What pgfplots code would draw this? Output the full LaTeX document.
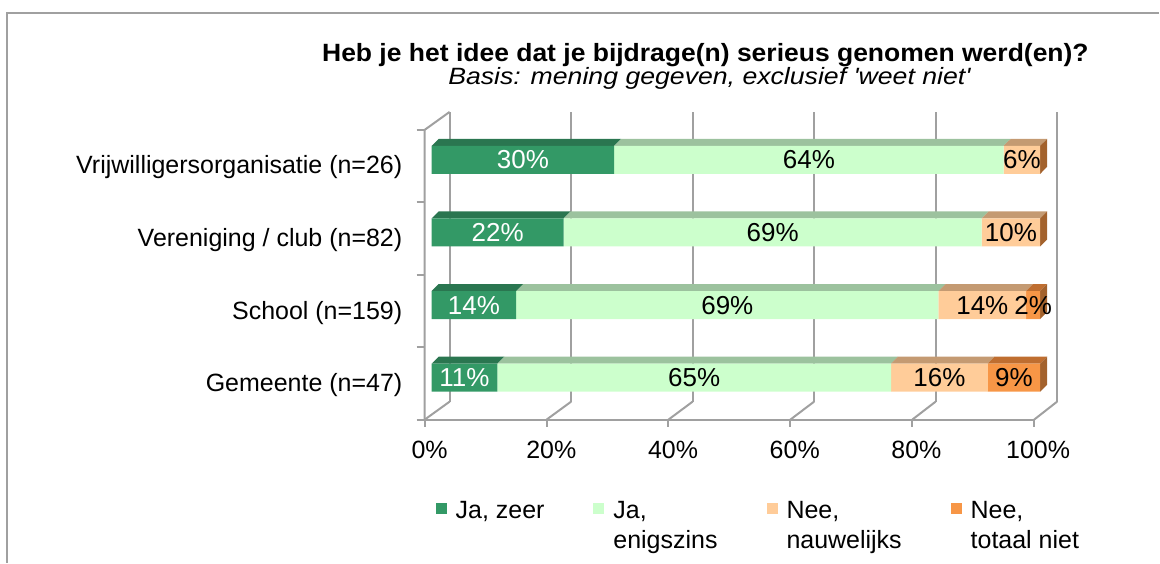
\documentclass[border=0pt]{standalone}
\usepackage{graphicx}
\usepackage{pgfplots}
\pgfplotsset{compat=1.18}
\usepackage{fontspec}
\setmainfont{Liberation Sans}
\definecolor{dg}{HTML}{339966}
\definecolor{lg}{HTML}{CCFFCC}
\definecolor{pe}{HTML}{FFCC99}
\definecolor{or}{HTML}{F79646}
\definecolor{dgt}{HTML}{2A7650}
\definecolor{lgt}{HTML}{9CC29E}
\definecolor{pet}{HTML}{C49A72}
\definecolor{ort}{HTML}{BF6E30}
\definecolor{side}{HTML}{A3622D}
\definecolor{wall}{HTML}{A0A0A0}
\newcommand\fs{\fontsize{12.5}{16}\selectfont}
\begin{document}
\begin{tikzpicture}
\begin{scope}[x=0.5pt,y=0.5pt]
\path (0,0) rectangle (1160,563);
\draw[wall, line width=1pt] (7,0) -- (7,549.5) -- (1160,549.5);
% back wall gridlines
\foreach \k in {0,...,5}{
  \draw[wall, line width=1pt] ({450+121.6*\k},161) -- ({450+121.6*\k},451);
  \draw[wall, line width=1pt] ({425+122*\k},143) -- ({450+121.6*\k},161);
  \draw[wall, line width=1pt] ({425+122*\k},143) -- ({425+122*\k},136);
}
\draw[wall, line width=1pt] (425,143) -- (1035,143);
\draw[wall, line width=1pt] (425,143) -- (425,433) -- (450,451);
\foreach \yy in {433,360.5,288,215.5,143}{
  \draw[wall, line width=1pt] (417,\yy) -- (425,\yy);
}
\node[font=\bfseries\fontsize{12.5}{15}\selectfont, anchor=base] at (706,501) {\scalebox{1.06}[1]{Heb je het idee dat je bijdrage(n) serieus genomen werd(en)?}};
\node[font=\itshape\fontsize{11.8}{15}\selectfont, anchor=base] at (710,478) {\scalebox{1.13}[1]{Basis: mening gegeven, exclusief \textquotesingle weet niet\textquotesingle}};
\end{scope}

% 3D faces (top and right sides)
\begin{axis}[at={(216pt,71.5pt)}, anchor=south west, scale only axis,
  width=304.5pt, height=145pt, xmin=0, xmax=100, ymin=-0.578, ymax=3.413,
  hide axis, clip=false]
% bar 1 (y=3)
\addplot[fill=dgt, draw=none] coordinates {(0,3.193) (30,3.193) (31.15,3.289) (1.15,3.289)} -- cycle;
\addplot[fill=lgt, draw=none] coordinates {(30,3.193) (94,3.193) (95.15,3.289) (31.15,3.289)} -- cycle;
\addplot[fill=pet, draw=none] coordinates {(94,3.193) (100,3.193) (101.15,3.289) (95.15,3.289)} -- cycle;
\addplot[fill=side, draw=none] coordinates {(100,2.807) (100,3.193) (101.15,3.289) (101.15,2.904)} -- cycle;
% bar 2 (y=2)
\addplot[fill=dgt, draw=none] coordinates {(0,2.193) (21.7,2.193) (22.85,2.289) (1.15,2.289)} -- cycle;
\addplot[fill=lgt, draw=none] coordinates {(21.7,2.193) (90.4,2.193) (91.55,2.289) (22.85,2.289)} -- cycle;
\addplot[fill=pet, draw=none] coordinates {(90.4,2.193) (100,2.193) (101.15,2.289) (91.55,2.289)} -- cycle;
\addplot[fill=side, draw=none] coordinates {(100,1.807) (100,2.193) (101.15,2.289) (101.15,1.904)} -- cycle;
% bar 3 (y=1)
\addplot[fill=dgt, draw=none] coordinates {(0,1.193) (13.9,1.193) (15.05,1.289) (1.15,1.289)} -- cycle;
\addplot[fill=lgt, draw=none] coordinates {(13.9,1.193) (83.3,1.193) (84.45,1.289) (15.05,1.289)} -- cycle;
\addplot[fill=pet, draw=none] coordinates {(83.3,1.193) (97.7,1.193) (98.85,1.289) (84.45,1.289)} -- cycle;
\addplot[fill=ort, draw=none] coordinates {(97.7,1.193) (100,1.193) (101.15,1.289) (98.85,1.289)} -- cycle;
\addplot[fill=side, draw=none] coordinates {(100,0.807) (100,1.193) (101.15,1.289) (101.15,0.904)} -- cycle;
% bar 4 (y=0)
\addplot[fill=dgt, draw=none] coordinates {(0,0.193) (10.8,0.193) (11.95,0.289) (1.15,0.289)} -- cycle;
\addplot[fill=lgt, draw=none] coordinates {(10.8,0.193) (75.5,0.193) (76.65,0.289) (11.95,0.289)} -- cycle;
\addplot[fill=pet, draw=none] coordinates {(75.5,0.193) (91.4,0.193) (92.55,0.289) (76.65,0.289)} -- cycle;
\addplot[fill=ort, draw=none] coordinates {(91.4,0.193) (100,0.193) (101.15,0.289) (92.55,0.289)} -- cycle;
\addplot[fill=side, draw=none] coordinates {(100,-0.193) (100,0.193) (101.15,0.289) (101.15,-0.096)} -- cycle;
\end{axis}

% front faces
\begin{axis}[at={(216pt,71.5pt)}, anchor=south west, scale only axis,
  width=304.5pt, height=145pt, xmin=0, xmax=100, ymin=-0.578, ymax=3.413,
  xbar stacked, bar width=14pt, clip=false,
  axis line style={draw=none}, tick style={draw=none},
  xtick={0,20,40,60,80,100},
  xticklabels={0\%,20\%,40\%,60\%,80\%,100\%},
  xticklabel style={font=\fs, anchor=base, inner sep=0pt, yshift=-19.5pt, xshift=-1pt},
  ytick={0,1,2,3},
  yticklabels={Gemeente (n=47),School (n=159),Vereniging / club (n=82),Vrijwilligersorganisatie (n=26)},
  yticklabel style={font=\fs, anchor=base east, inner sep=0pt, xshift=-14.5pt, yshift=-7pt},
  point meta=explicit symbolic,
  nodes near coords,
  every node near coord/.append style={font=\fontsize{13}{16}\selectfont, anchor=center, inner sep=0pt},
  legend columns=4,
  legend image code/.code={\fill[#1] (0pt,2pt) rectangle (5.5pt,7.5pt);},
  legend style={draw=none, fill=none, font=\fs, inner sep=0pt, outer sep=0pt,
     at={(0.0066,-0.25)}, anchor=north west,
     cells={anchor=base west, inner sep=0pt},
     /tikz/every odd column/.append style={column sep=2.5pt},
     /tikz/every even column/.append style={column sep=22.5pt}},
]
\addplot[fill=dg, draw=none, every node near coord/.append style={text=white}]
  coordinates {(10.8,0) [11\%] (13.9,1) [14\%] (21.7,2) [22\%] (30,3) [30\%]};
\addlegendentry{Ja, zeer}
\addplot[fill=lg, draw=none]
  coordinates {(64.7,0) [65\%] (69.4,1) [69\%] (68.7,2) [69\%] (64,3) [64\%]};
\addlegendentry{\begin{tabular}[t]{@{}l@{}}Ja,\\[-1pt]enigszins\end{tabular}}
\addplot[fill=pe, draw=none]
  coordinates {(15.9,0) [16\%] (14.4,1) [14\%] (9.6,2) [10\%] (6,3) [6\%]};
\addlegendentry{\begin{tabular}[t]{@{}l@{}}Nee,\\[-1pt]nauwelijks\end{tabular}}
\addplot[fill=or, draw=none]
  coordinates {(8.6,0) [9\%] (2.3,1) [2\%] (0,2) [{}] (0,3) [{}]};
\addlegendentry{\begin{tabular}[t]{@{}l@{}}Nee,\\[-1pt]totaal niet\end{tabular}}
\end{axis}
\end{tikzpicture}
\end{document}
